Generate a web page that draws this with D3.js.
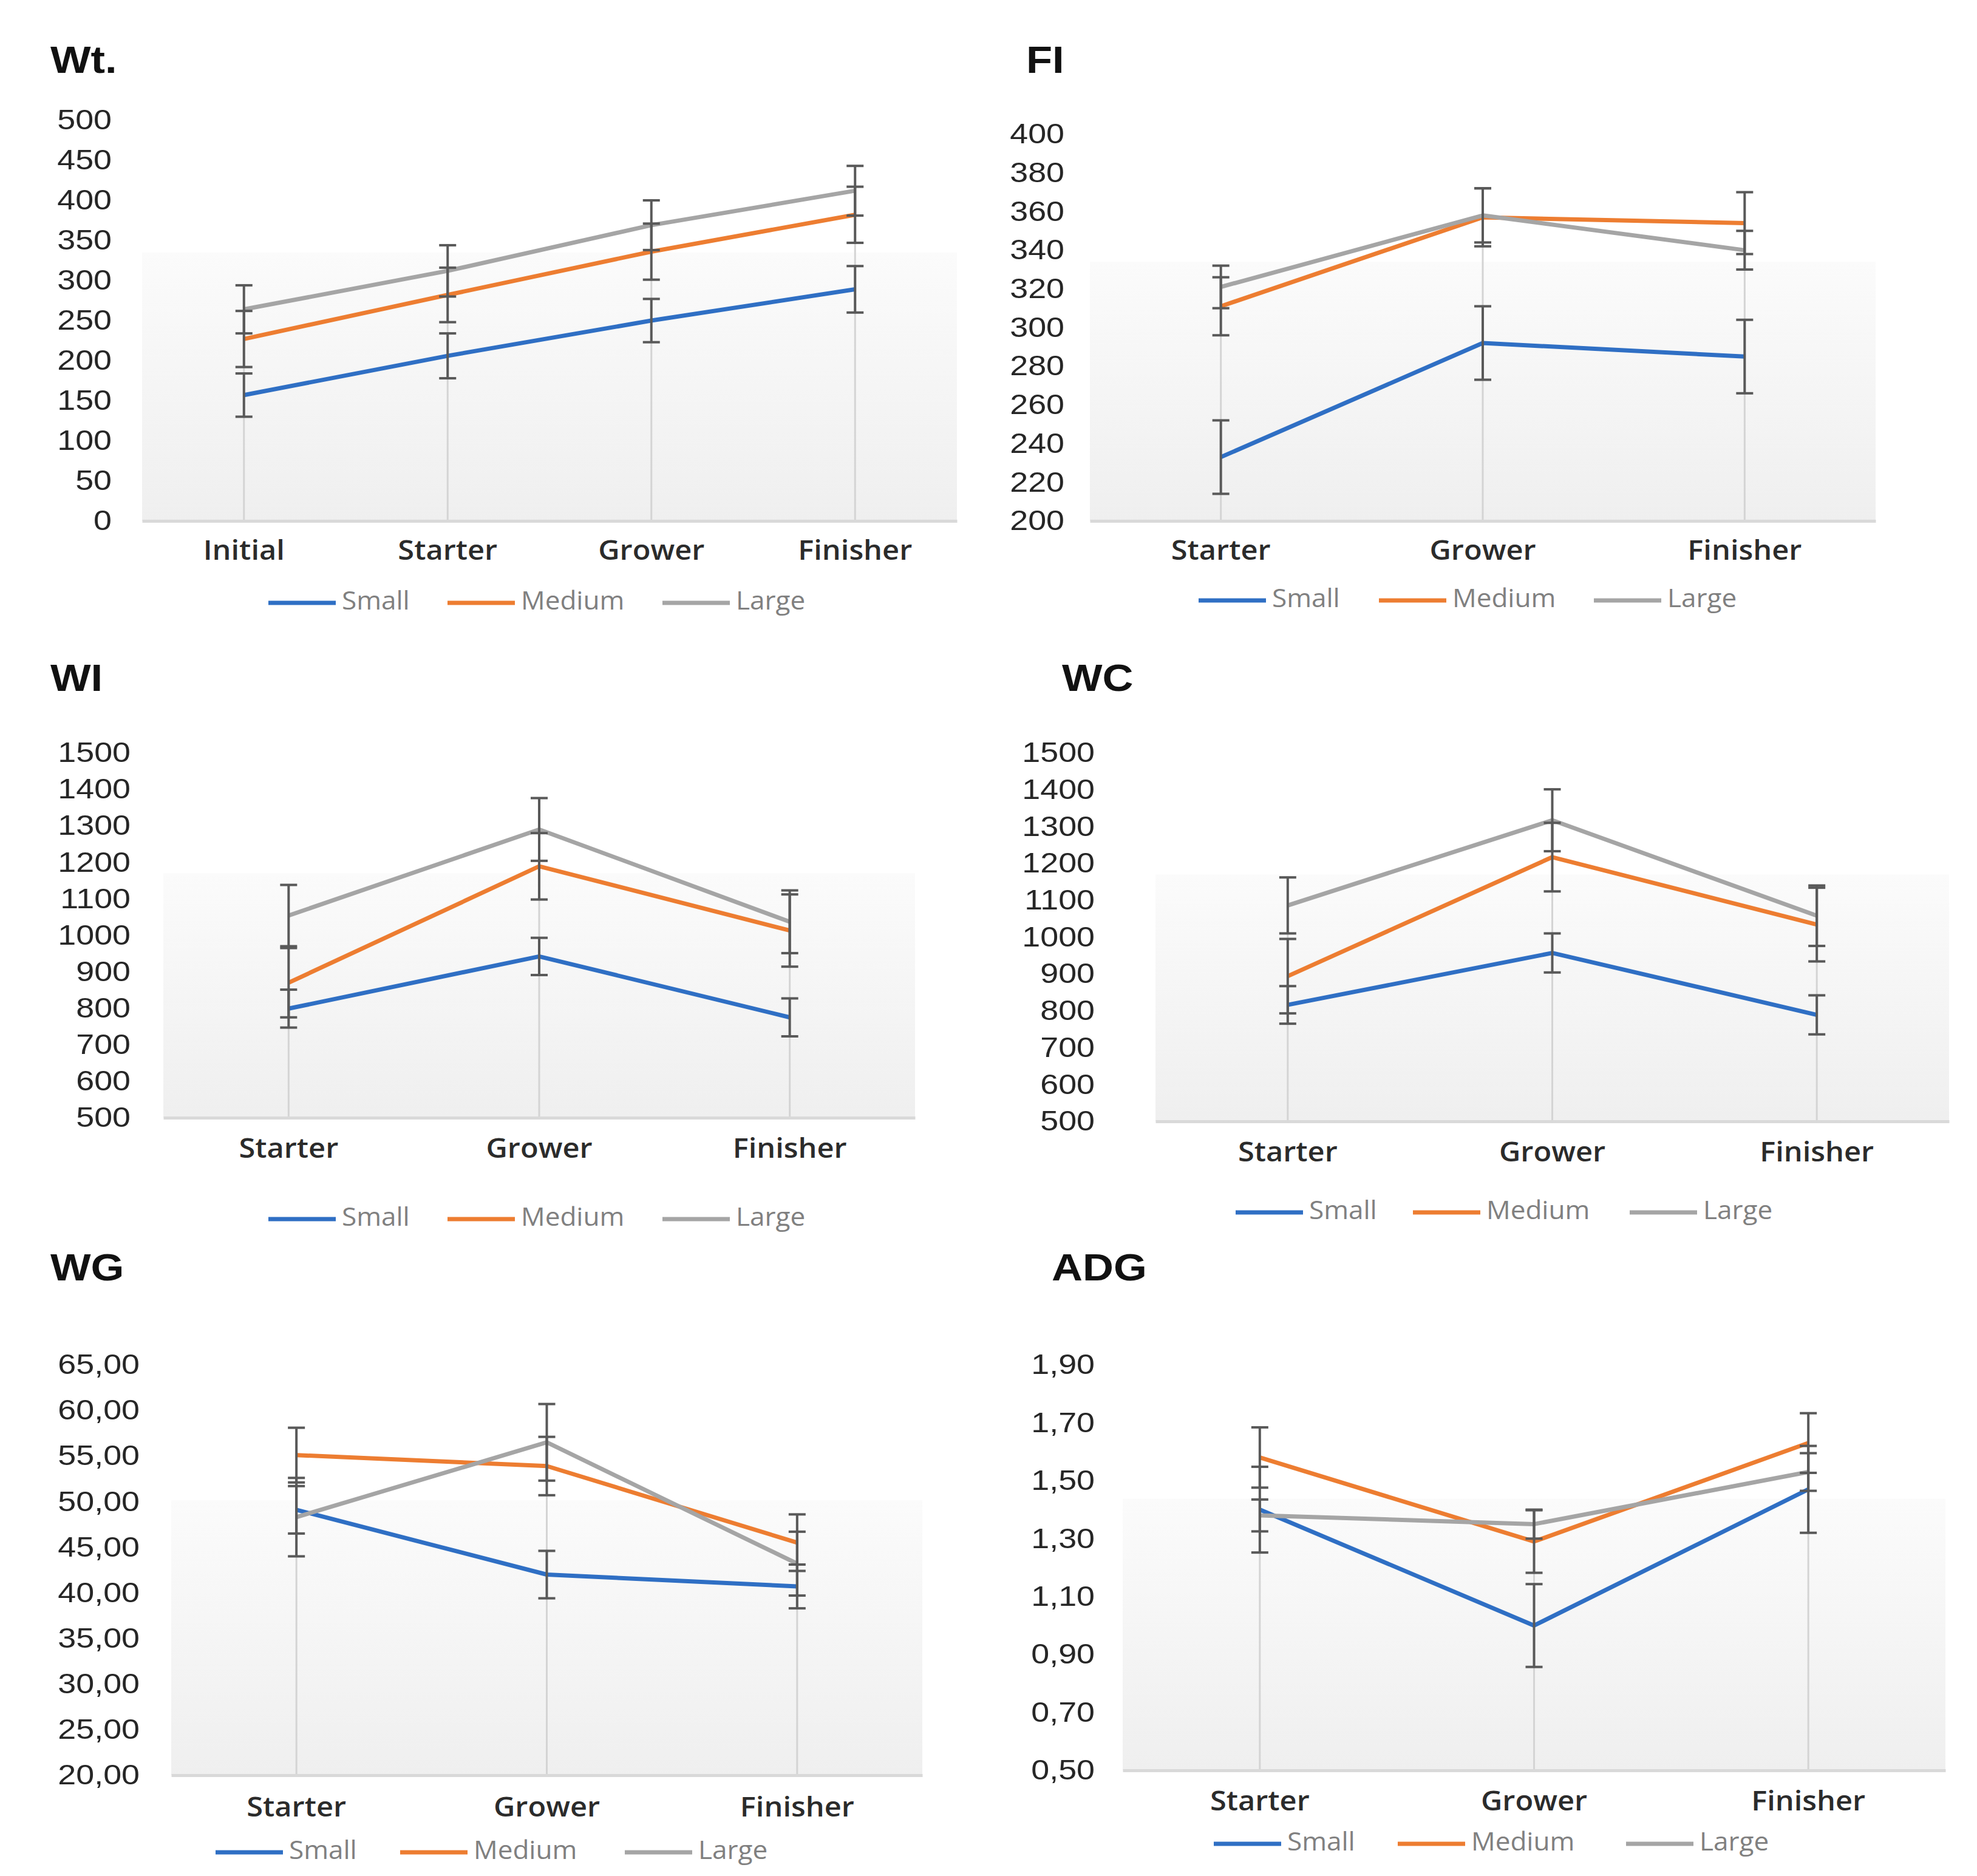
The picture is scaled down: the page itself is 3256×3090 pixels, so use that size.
<!DOCTYPE html>
<html>
<head>
<meta charset="utf-8">
<script src="https://cdn.jsdelivr.net/npm/d3@7"></script>
<style>
  body { margin: 0; background: #fff; }
  svg { display: block; }
</style>
</head>
<body>
<svg id="chart" width="3256" height="3090"></svg>
<script>
// series + categories
const seriesNames = ["Small", "Medium", "Large"];
const seriesColors = ["#2f6fc4", "#ed7d31", "#a5a5a5"];
const wtCategories = ["Initial", "Starter", "Grower", "Finisher"];
const stageCategories = ["Starter", "Grower", "Finisher"];

// Wt.
const wtTicks = [0, 50, 100, 150, 200, 250, 300, 350, 400, 450, 500];
const wtMeans = [[157, 206, 250, 289], [227, 282, 336, 382], [264, 312, 369, 412]];
const wtErrors = [[27, 28, 27, 29], [35, 34, 35, 35], [30, 32, 31, 31]];

// FI
const fiTicks = [200, 220, 240, 260, 280, 300, 320, 340, 360, 380, 400];
const fiMeans = [[233, 292, 285], [311, 357, 354], [321, 358, 340]];
const fiErrors = [[19, 19, 19], [15, 15, 16], [11, 14, 10]];

// WI
const wiTicks = [500, 600, 700, 800, 900, 1000, 1100, 1200, 1300, 1400, 1500];
const wiMeans = [[799, 942, 775], [870, 1189, 1013], [1054, 1290, 1037]];
const wiErrors = [[52, 51, 52], [95, 91, 99], [84, 86, 86]];

// WC
const wcTicks = [500, 600, 700, 800, 900, 1000, 1100, 1200, 1300, 1400, 1500];
const wcMeans = [[816, 957, 789], [894, 1217, 1034], [1086, 1317, 1058]];
const wcErrors = [[51, 53, 53], [101, 93, 100], [76, 84, 82]];

// WG
const wgTicks = [20, 25, 30, 35, 40, 45, 50, 55, 60, 65];
const wgMeans = [[49.1, 42.0, 40.7], [55.1, 53.9, 45.5], [48.3, 56.5, 43.2]];
const wgErrors = [[2.6, 2.6, 2.4], [3.0, 3.2, 3.1], [4.3, 4.2, 3.5]];

// ADG
const adgTicks = [0.5, 0.7, 0.9, 1.1, 1.3, 1.5, 1.7, 1.9];
const adgMeans = [[1.40, 1.00, 1.47], [1.58, 1.29, 1.63], [1.38, 1.35, 1.53]];
const adgErrors = [[0.148, 0.143, 0.15], [0.104, 0.108, 0.103], [0.055, 0.05, 0.065]];

const intFmt = d3.format("d");
const commaFmt = d => d3.format(".2f")(d).replace(".", ",");

const panels = [
	{ title: "Wt.", cats: wtCategories, means: wtMeans, errs: wtErrors, ticks: wtTicks, fmt: intFmt,
		x0: 234, x1: 1576, yTop: 198, yBot: 858, tickX: 184, titleX: 83, titleY: 120, catY: 905, legY: 993, legX: [442, 737, 1091] },
	{ title: "FI", cats: stageCategories, means: fiMeans, errs: fiErrors, ticks: fiTicks, fmt: intFmt,
		x0: 1795, x1: 3089, yTop: 221, yBot: 858, tickX: 1753, titleX: 1690, titleY: 120, catY: 905, legY: 989, legX: [1974, 2271, 2625] },
	{ title: "WI", cats: stageCategories, means: wiMeans, errs: wiErrors, ticks: wiTicks, fmt: intFmt,
		x0: 269, x1: 1507, yTop: 1240, yBot: 1841, tickX: 215, titleX: 83, titleY: 1138, catY: 1890, legY: 2008, legX: [442, 737, 1091] },
	{ title: "WC", cats: stageCategories, means: wcMeans, errs: wcErrors, ticks: wcTicks, fmt: intFmt,
		x0: 1903, x1: 3210, yTop: 1240, yBot: 1847, tickX: 1803, titleX: 1749, titleY: 1138, catY: 1896, legY: 1997, legX: [2035, 2327, 2684] },
	{ title: "WG", cats: stageCategories, means: wgMeans, errs: wgErrors, ticks: wgTicks, fmt: commaFmt,
		x0: 282, x1: 1519, yTop: 2248, yBot: 2924, tickX: 230, titleX: 83, titleY: 2109, catY: 2975, legY: 3051, legX: [355, 659, 1029] },
	{ title: "ADG", cats: stageCategories, means: adgMeans, errs: adgErrors, ticks: adgTicks, fmt: commaFmt,
		x0: 1849, x1: 3204, yTop: 2248, yBot: 2916, tickX: 1803, titleX: 1732, titleY: 2109, catY: 2965, legY: 3037, legX: [1999, 2302, 2678] }
];

const svg = d3.select("#chart");
const defs = svg.append("defs");
const grad = defs.append("linearGradient")
	.attr("id", "plotGrad")
	.attr("x1", 0).attr("y1", 0).attr("x2", 0).attr("y2", 1);
grad.append("stop").attr("offset", "0%").attr("stop-color", "#fbfbfb");
grad.append("stop").attr("offset", "100%").attr("stop-color", "#efefef");

panels.forEach(p => drawPanel(p));

function drawPanel(p) {
	const g = svg.append("g");
	const x = d3.scaleBand().domain(p.cats).range([p.x0, p.x1]);
	const y = d3.scaleLinear().domain(d3.extent(p.ticks)).range([p.yBot, p.yTop]);
	const cx = c => x(c) + x.bandwidth() / 2;

	// shaded lower part of plot area
	const shadeTop = p.yTop + (p.yBot - p.yTop) * 0.33;
	g.append("rect")
		.attr("x", p.x0).attr("y", shadeTop)
		.attr("width", p.x1 - p.x0).attr("height", p.yBot - shadeTop)
		.attr("fill", "url(#plotGrad)");

	// drop lines
	g.selectAll(".drop")
		.data(p.cats)
		.join("line")
		.attr("x1", cx).attr("x2", cx)
		.attr("y1", (c, i) => y(d3.max(p.means, s => s[i])))
		.attr("y2", p.yBot)
		.attr("stroke", "#d4d4d4")
		.attr("stroke-width", 3);

	// category axis
	const xAxis = g.append("g")
		.attr("transform", `translate(0,${p.yBot})`)
		.call(d3.axisBottom(x).tickSize(0).tickPadding(0));
	xAxis.select(".domain").attr("stroke", "#d9d9d9").attr("stroke-width", 5);
	xAxis.selectAll("text")
		.attr("y", p.catY - p.yBot)
		.attr("dy", "0.36em")
		.attr("transform", "scale(1.06,1)")
		.attr("font-family", "'Open Sans', sans-serif")
		.attr("font-weight", 600)
		.attr("font-size", 46)
		.attr("fill", "#2b2b2b");

	// value axis (labels only)
	const yAxis = g.append("g")
		.attr("transform", `translate(${p.tickX},0)`)
		.call(d3.axisLeft(y).tickValues(p.ticks).tickFormat(p.fmt).tickSize(0).tickPadding(0));
	yAxis.select(".domain").remove();
	yAxis.selectAll("text")
		.attr("transform", "scale(1.17,1)")
		.attr("font-family", "'Liberation Sans', Arial, sans-serif")
		.attr("font-size", 46)
		.attr("fill", "#262626");

	// series lines
	const line = d3.line()
		.x((d, i) => cx(p.cats[i]))
		.y(d => y(d));
	g.selectAll(".series")
		.data(p.means)
		.join("path")
		.attr("d", d => line(d))
		.attr("fill", "none")
		.attr("stroke", (d, i) => seriesColors[i])
		.attr("stroke-width", 7)
		.attr("stroke-linejoin", "round");

	// error bars
	const bars = [];
	p.means.forEach((s, si) => {
		s.forEach((v, ci) => {
			bars.push({ x: cx(p.cats[ci]), lo: v - p.errs[si][ci], hi: v + p.errs[si][ci] });
		});
	});
	const eb = g.selectAll(".err").data(bars).join("g").attr("stroke", "#595959").attr("stroke-width", 4);
	eb.append("line")
		.attr("x1", d => d.x).attr("x2", d => d.x)
		.attr("y1", d => y(d.lo)).attr("y2", d => y(d.hi));
	eb.append("line")
		.attr("x1", d => d.x - 14).attr("x2", d => d.x + 14)
		.attr("y1", d => y(d.lo)).attr("y2", d => y(d.lo));
	eb.append("line")
		.attr("x1", d => d.x - 14).attr("x2", d => d.x + 14)
		.attr("y1", d => y(d.hi)).attr("y2", d => y(d.hi));

	// title
	g.append("text")
		.attr("transform", `translate(${p.titleX},${p.titleY}) scale(1.12,1)`)
		.attr("font-family", "'Liberation Sans', Arial, sans-serif")
		.attr("font-weight", "bold")
		.attr("font-size", 63)
		.attr("fill", "#111")
		.text(p.title);

	// legend
	const leg = g.selectAll(".leg")
		.data(seriesNames)
		.join("g")
		.attr("transform", (d, i) => `translate(${p.legX[i]},${p.legY})`);
	leg.append("line")
		.attr("x1", 0).attr("x2", 111)
		.attr("stroke", (d, i) => seriesColors[i])
		.attr("stroke-width", 7);
	leg.append("text")
		.attr("transform", "translate(121,-4) scale(1.05,1)")
		.attr("dy", "0.36em")
		.attr("font-family", "'Open Sans', sans-serif")
		.attr("font-size", 42)
		.attr("fill", "#808080")
		.text(d => d);
}
</script>
</body>
</html>
